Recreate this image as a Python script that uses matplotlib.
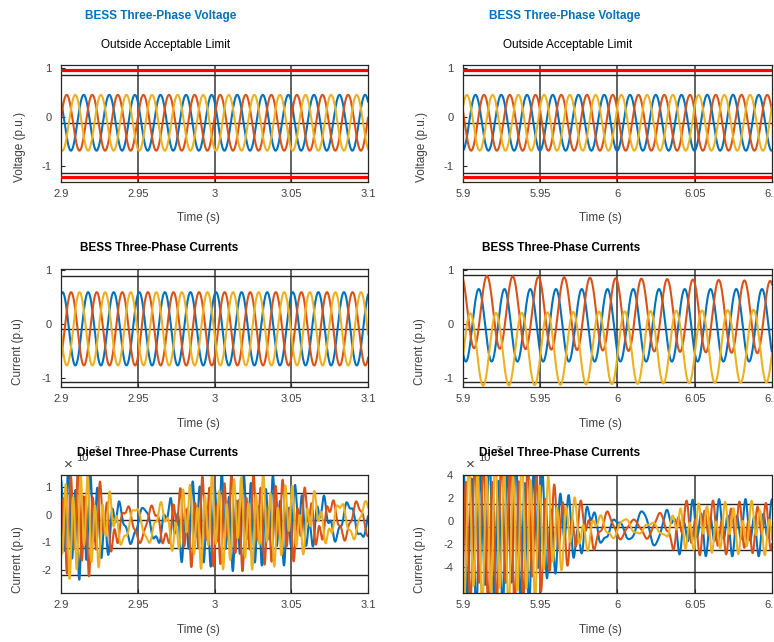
import numpy as np
import matplotlib
matplotlib.use('Agg')
import matplotlib.pyplot as plt

plt.rcParams['font.family'] = ['Liberation Sans', 'DejaVu Sans']

BLUE = '#0072BD'
RED = '#D95319'
YEL = '#EDB120'
PHASE_COLORS = [BLUE, RED, YEL]

# ---------------- data ----------------
f_grid = 60.0            # Hz
window = 0.2             # s shown per panel
t0_left = 2.9
t0_right = 5.9

# Voltage panels (p.u.)
volt_amp = 0.57
volt_offset = -0.12
volt_peak_left = [2.9148, 2.9037, 2.9093]     # blue, red, yellow peak times
volt_peak_right = [5.9081, 5.9136, 5.9025]
limit_upper = 0.96
limit_lower = -1.22

# BESS current panels (p.u.)
bess_amp_left = 0.68
bess_off_left = -0.09
bess_peak_left = [2.9010, 2.9066, 2.9121]
bess_amp_right = 0.67
bess_off_right_start = [-0.03, 0.22, -0.48]
bess_off_right_end = [-0.03, 0.12, -0.41]
bess_peak_right = [5.9102, 5.9155, 5.9047]

# Diesel current panels (x1e-3 p.u.)
f_hf_left = 210.0
dl_t = [2.90, 2.91, 2.92, 2.93, 2.94, 2.955, 2.97, 2.98, 2.99, 3.00, 3.02, 3.04, 3.05, 3.06, 3.07, 3.08, 3.10]
dl_hf = [1.5, 1.5, 1.3, 0.7, 0.15, 0.05, 0.3, 0.9, 1.1, 1.2, 1.2, 1.1, 0.9, 0.6, 0.35, 0.15, 0.1]
dl_off = [-0.3, -0.3, -0.3, -0.35, -0.35, -0.35, -0.35, -0.3, -0.3, -0.25, -0.25, -0.25, -0.25, -0.2, -0.2, -0.2, -0.2]
dl_a60 = 0.6
dl_peak = [2.9373, 2.9430, 2.9486]

f_hf_right = 175.0
dr_t = [5.90, 5.94, 5.95, 5.96, 5.97, 5.98, 5.99, 6.00, 6.03, 6.035, 6.04, 6.05, 6.10]
dr_hf = [5.6, 5.6, 4.4, 2.8, 1.9, 1.0, 0.3, 0.1, 0.1, 0.6, 1.2, 1.5, 1.5]
dr_off = [-1.0, -1.0, -0.9, -0.8, -0.7, -0.7, -0.6, -0.6, -0.6, -0.6, -0.6, -0.6, -0.6]
dr60_t = [5.90, 5.98, 5.99, 6.00, 6.01, 6.02, 6.03, 6.05, 6.10]
dr60_amp = [
    [1.2, 1.6, 1.3, 0.55, 1.2, 1.6, 1.4, 1.0, 1.0],   # blue
    [1.2, 1.2, 1.3, 1.0, 0.6, 0.9, 1.3, 1.0, 1.0],    # red
    [1.2, 1.1, 0.8, 0.9, 0.6, 0.35, 0.7, 1.0, 1.0],   # yellow
]
dr_peak = [6.0160, 6.0105, 6.0215]

# Axis settings
x_ticks_left = [2.9, 2.95, 3.0, 3.05, 3.1]
x_ticks_right = [5.9, 5.95, 6.0, 6.05, 6.1]
x_ticklabels_left = ['2.9', '2.95', '3', '3.05', '3.1']
x_ticklabels_right = ['5.9', '5.95', '6', '6.05', '6.1']

# ---------------- figure ----------------
W, H = 774, 642
fig = plt.figure(figsize=(W / 100, H / 100), dpi=100)


def ax_px(l, r, t, b):
    return fig.add_axes([l / W, 1 - b / H, (r - l) / W, (b - t) / H])


def style(ax, t0, xt, xtl, ylim, yt, hgrid):
    ax.set_xlim(t0, t0 + window)
    ax.set_ylim(*ylim)
    ax.set_xticks(xt)
    ax.set_xticklabels(xtl)
    ax.set_yticks(yt)
    ax.set_yticklabels(['%g' % v if v >= 0 else '-%g' % (-v) for v in yt])
    ax.tick_params(direction='in', length=3, labelsize=8, colors='#262626',
                   labelcolor='#404040', pad=5)
    ax.tick_params(axis='y', pad=7)
    for s in ax.spines.values():
        s.set_color('#262626')
        s.set_linewidth(0.9)
    for xv in xt[1:-1]:
        ax.axvline(xv, color='#555555', lw=1.3, zorder=0.5)
    for hv in hgrid:
        ax.axhline(hv, color='#262626', lw=1.0, zorder=0.5)


def cosw(t, amp, off, tp, f=f_grid):
    return off + amp * np.cos(2 * np.pi * f * (t - tp))


lw = 1.5
left_px = (61, 368)
right_px = (463, 772)
rows = [(65, 182), (269, 387), (475, 593)]

# Row 1: voltage
for (l, r), t0, peaks, xt, xtl in [(left_px, t0_left, volt_peak_left, x_ticks_left, x_ticklabels_left),
                                   (right_px, t0_right, volt_peak_right, x_ticks_right, x_ticklabels_right)]:
    ax = ax_px(l, r, *rows[0])
    t = np.linspace(t0, t0 + window, 4000)
    for c, tp in zip(PHASE_COLORS, peaks):
        ax.plot(t, cosw(t, volt_amp, volt_offset, tp), color=c, lw=lw)
    ax.axhline(limit_upper, color='#ff0000', lw=2.3, zorder=3)
    ax.axhline(limit_lower, color='#ff0000', lw=2.3, zorder=3)
    style(ax, t0, xt, xtl, (-1.33, 1.06), [-1, 0, 1], [0.86, -0.12, -1.14])

# Row 2: BESS currents
ax = ax_px(*left_px, *rows[1])
t = np.linspace(t0_left, t0_left + window, 4000)
for c, tp in zip(PHASE_COLORS, bess_peak_left):
    ax.plot(t, cosw(t, bess_amp_left, bess_off_left, tp), color=c, lw=lw)
style(ax, t0_left, x_ticks_left, x_ticklabels_left, (-1.17, 1.02), [-1, 0, 1], [0.89, -0.1, -1.07])

ax = ax_px(*right_px, *rows[1])
t = np.linspace(t0_right, t0_right + window, 4000)
for c, tp, o0, o1 in zip(PHASE_COLORS, bess_peak_right, bess_off_right_start, bess_off_right_end):
    off = np.interp(t, [t0_right, t0_right + window], [o0, o1])
    ax.plot(t, cosw(t, bess_amp_right, off, tp), color=c, lw=lw)
style(ax, t0_right, x_ticks_right, x_ticklabels_right, (-1.17, 1.01), [-1, 0, 1], [0.89, -0.1, -1.07])

# Row 3: diesel currents
ax = ax_px(*left_px, *rows[2])
t = np.linspace(t0_left, t0_left + window, 6000)
hf = np.interp(t, dl_t, dl_hf)
off = np.interp(t, dl_t, dl_off)
for k, (c, tp) in enumerate(zip(PHASE_COLORS, dl_peak)):
    y = off + dl_a60 * np.cos(2 * np.pi * f_grid * (t - tp)) \
        + hf * np.cos(2 * np.pi * f_hf_left * (t - t0_left) - 2 * np.pi * k / 3)
    ax.plot(t, y, color=c, lw=lw)
style(ax, t0_left, x_ticks_left, x_ticklabels_left, (-2.84, 1.45), [-2, -1, 0, 1], [0.79, -0.2, -1.2, -2.2])

ax = ax_px(*right_px, *rows[2])
t = np.linspace(t0_right, t0_right + window, 6000)
hf = np.interp(t, dr_t, dr_hf)
off = np.interp(t, dr_t, dr_off)
for k, (c, tp) in enumerate(zip(PHASE_COLORS, dr_peak)):
    a60 = np.interp(t, dr60_t, dr60_amp[k])
    y = off + a60 * np.cos(2 * np.pi * f_grid * (t - tp)) \
        + hf * np.cos(2 * np.pi * f_hf_right * (t - t0_right) - 2 * np.pi * k / 3)
    ax.plot(t, y, color=c, lw=lw)
style(ax, t0_right, x_ticks_right, x_ticklabels_right, (-6.3, 3.8), [-4, -2, 0, 2, 4], [1.5, -0.57, -2.55, -4.5])


# ---------------- text ----------------
def ftext(x, y, s, **kw):
    fig.text(x / W, 1 - y / H, s, ha=kw.pop('ha', 'center'), va=kw.pop('va', 'center'), **kw)


for dx, axl in [(0, 61), (402, 463)]:
    ftext(161 + dx * 1.005, 16, 'BESS Three-Phase Voltage', fontsize=8.5, fontweight='bold', color=BLUE)
    ftext(166 + dx, 45, 'Outside Acceptable Limit', fontsize=8.5, color='black')
    ftext(159 + dx, 248, 'BESS Three-Phase Currents', fontsize=8.5, fontweight='bold', color='black')
    # exponent label (drawn before the title so the title covers it)
    ftext(axl + 7, 465, '\u00d7', fontsize=11, color='#404040')
    ftext(axl + 21, 458, '10', fontsize=8, color='#404040')
    ftext(axl + 36, 450, '-3', fontsize=6.5, color='#404040')
    ftext(158 + dx, 453, 'Diesel Three-Phase Currents', fontsize=8.5, fontweight='bold', color='black', zorder=5)
    for y in [218, 424, 630]:
        ftext(198 + dx, y, 'Time (s)', fontsize=8.5, color='#404040')

ftext(20, 147, 'Voltage (p.u.)', fontsize=8.5, color='#404040', rotation=90)
ftext(422, 147, 'Voltage (p.u.)', fontsize=8.5, color='#404040', rotation=90)
ftext(18, 352, 'Current (p.u)', fontsize=8.5, color='#404040', rotation=90)
ftext(420, 352, 'Current (p.u)', fontsize=8.5, color='#404040', rotation=90)
ftext(18, 560, 'Current (p.u)', fontsize=8.5, color='#404040', rotation=90)
ftext(420, 560, 'Current (p.u)', fontsize=8.5, color='#404040', rotation=90)

fig.savefig('out.png', dpi=100, facecolor='white')
